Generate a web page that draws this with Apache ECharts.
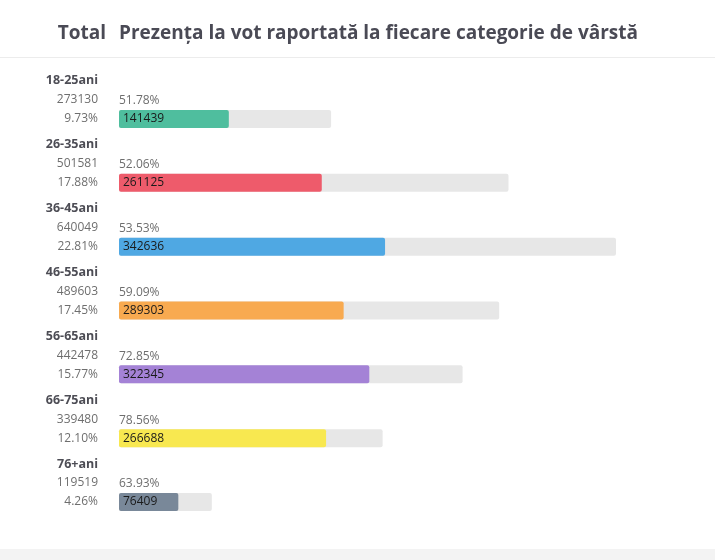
<!DOCTYPE html>
<html>
<head>
<meta charset="utf-8">
<script src="https://cdn.jsdelivr.net/npm/echarts@6/dist/echarts.min.js"></script>
<style>
  html, body { margin: 0; padding: 0; background: #fff; }
  #chart { width: 715px; height: 560px; }
</style>
</head>
<body>
<div id="chart"></div>
<script>
var ages = ['18-25ani', '26-35ani', '36-45ani', '46-55ani', '56-65ani', '66-75ani', '76+ani'];
var totals = [273130, 501581, 640049, 489603, 442478, 339480, 119519];
var voted = [141439, 261125, 342636, 289303, 322345, 266688, 76409];
var turnout = ['51.78%', '52.06%', '53.53%', '59.09%', '72.85%', '78.56%', '63.93%'];
var share = ['9.73%', '17.88%', '22.81%', '17.45%', '15.77%', '12.10%', '4.26%'];
var colors = ['#4fbe9e', '#ee5b6b', '#4fa8e3', '#f8aa50', '#a482d6', '#f8e850', '#798899'];

var font = '"Open Sans", "Noto Sans", sans-serif';
var chart = echarts.init(document.getElementById('chart'));

var option = {
  animation: false,
  backgroundColor: '#fff',
  textStyle: { fontFamily: font },
  title: [{
    text: 'Total',
    right: 609,
    top: 24,
    padding: 0,
    textStyle: { fontFamily: font, fontSize: 19, fontWeight: 'bold', color: '#4a4a55' }
  }, {
    text: 'Prezența la vot raportată la fiecare categorie de vârstă',
    left: 119,
    top: 24,
    padding: 0,
    textStyle: { fontFamily: font, fontSize: 19, fontWeight: 'bold', color: '#4a4a55' }
  }],
  graphic: [
    { type: 'rect', shape: { x: 0, y: 57, width: 715, height: 1 }, style: { fill: '#ececec' }, silent: true },
    { type: 'rect', shape: { x: 0, y: 549, width: 715, height: 11 }, style: { fill: '#f3f3f3' }, silent: true }
  ],
  grid: { left: 119, right: 99, top: 87, bottom: 26 },
  xAxis: { type: 'value', min: 0, max: 640049, show: false },
  yAxis: {
    type: 'category',
    inverse: true,
    data: ages,
    axisLine: { show: false },
    axisTick: { show: false },
    axisLabel: {
      margin: 21,
      interval: 0,
      showMinLabel: true,
      showMaxLabel: true,
      hideOverlap: false,
      align: 'right',
      formatter: function (v, i) {
        return '{a|' + v + '}\n{b|' + totals[i] + '}\n{b|' + share[i] + '}\n{b| }\n{b| }';
      },
      rich: {
        a: { fontFamily: font, fontSize: 12.5, fontWeight: 'bold', color: '#4d4d55', lineHeight: 19, align: 'right' },
        b: { fontFamily: font, fontSize: 12, color: '#6e6e6e', lineHeight: 19, align: 'right' }
      }
    }
  },
  series: [{
    name: 'Total',
    type: 'bar',
    data: totals,
    barWidth: 18,
    silent: true,
    itemStyle: { color: '#e7e7e7', borderRadius: 2 },
    label: {
      show: true,
      position: [0, -9],
      align: 'left',
      verticalAlign: 'middle',
      fontFamily: font,
      fontSize: 12,
      color: '#6e6e6e',
      formatter: function (p) { return turnout[p.dataIndex]; }
    }
  }, {
    name: 'Votanți',
    type: 'bar',
    data: voted.map(function (v, i) { return { value: v, itemStyle: { color: colors[i] } }; }),
    barWidth: 18,
    barGap: '-100%',
    silent: true,
    itemStyle: { borderRadius: 2 },
    label: {
      show: true,
      position: 'insideLeft',
      distance: 4,
      fontFamily: font,
      fontSize: 12,
      color: '#1a1a1a'
    }
  }]
};

chart.setOption(option);
</script>
</body>
</html>
